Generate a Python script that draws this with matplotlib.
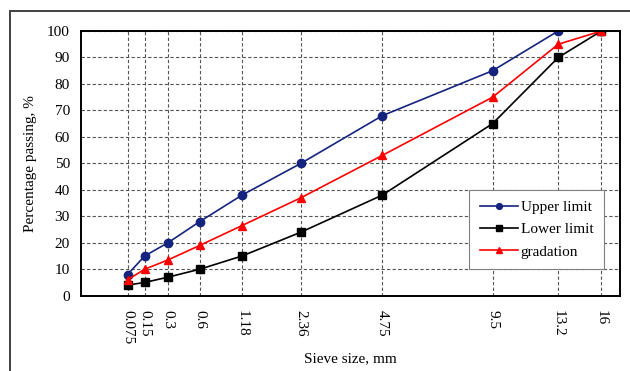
import matplotlib
matplotlib.use('Agg')
import matplotlib.pyplot as plt
from matplotlib.patches import Rectangle

# sieve sizes (mm) and percentage passing
sieve = [0.075, 0.15, 0.3, 0.6, 1.18, 2.36, 4.75, 9.5, 13.2, 16]
sieve_labels = ['0.075', '0.15', '0.3', '0.6', '1.18', '2.36', '4.75', '9.5', '13.2', '16']
upper = [8, 15, 20, 28, 38, 50, 68, 85, 100, 100]
lower = [4, 5, 7, 10, 15, 24, 38, 65, 90, 100]
gradation = [6, 10, 13.5, 19, 26.5, 37, 53, 75, 95, 100]

plt.rcParams['font.family'] = 'Liberation Serif'

fig = plt.figure(figsize=(6.3, 3.71), dpi=100)
ax = fig.add_axes([81 / 630, 1 - 295.7 / 371, (620 - 81) / 630, (295.7 - 31) / 371])

# outer frame of the figure
fig.patches.append(Rectangle((10 / 630, -0.1), 1.2, 1 - 11 / 371 + 0.1,
                             transform=fig.transFigure, fill=False,
                             edgecolor='#404040', linewidth=1.4))

# 0.45 power scale used for gradation curves
ax.set_xscale('function', functions=(lambda x: abs(x) ** 0.45,
                                     lambda y: abs(y) ** (1 / 0.45)))

ax.plot(sieve, upper, color='#14237d', marker='o', markersize=6,
        linewidth=1.2, label='Upper limit')
ax.plot(sieve, lower, color='black', marker='s', markersize=6,
        linewidth=1.2, label='Lower limit')
ax.plot(sieve, gradation, color='#ff0000', marker='^', markersize=6,
        linewidth=1.2, label='gradation')

ax.set_xlim(0, 17.3)
ax.set_ylim(0, 100)
ax.set_xticks(sieve)
ax.set_xticklabels(sieve_labels, rotation=-90, fontsize=11)
ax.set_yticks(range(0, 101, 10))
ax.tick_params(axis='y', length=0, pad=8, labelsize=11)
ax.tick_params(axis='x', length=0, pad=10)
ax.minorticks_off()

ax.grid(True, linestyle=(0, (3, 2)), color='#555555', linewidth=0.8)
ax.set_axisbelow(True)
for s in ax.spines.values():
    s.set_linewidth(1.4)

ax.set_xlabel('Sieve size, mm', fontsize=11, labelpad=6)
ax.set_ylabel('Percentage passing, %', fontsize=11, labelpad=7)

leg = ax.legend(loc='lower right', bbox_to_anchor=(0.97, 0.1), fontsize=11,
                fancybox=False, edgecolor='#808080', framealpha=1,
                handlelength=2.5, handletextpad=0.15, markerscale=0.7,
                borderpad=0.7, labelspacing=0.55, borderaxespad=0)
leg.get_frame().set_linewidth(0.8)

fig.savefig('out.png', dpi=100)
